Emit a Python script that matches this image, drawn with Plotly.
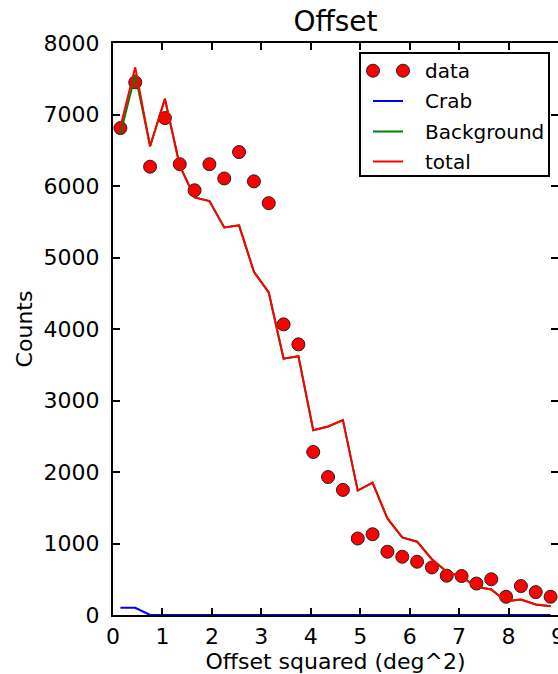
import plotly.graph_objects as go

# ---- data ----
offset_sq = [0.15, 0.45, 0.75, 1.05, 1.35, 1.65, 1.95, 2.25, 2.55, 2.85,
             3.15, 3.45, 3.75, 4.05, 4.35, 4.65, 4.95, 5.25, 5.55, 5.85,
             6.15, 6.45, 6.75, 7.05, 7.35, 7.65, 7.95, 8.25, 8.55, 8.85]
data_counts = [6810, 7450, 6270, 6950, 6305, 5940, 6305, 6105, 6475, 6065,
               5760, 4065, 3785, 2280, 1930, 1750, 1070, 1130, 885, 815,
               745, 665, 550, 545, 440, 500, 255, 405, 320, 255]
crab = [100, 100, 0, 0, 0, 0, 0, 0, 0, 0,
        0, 0, 0, 0, 0, 0, 0, 0, 0, 0,
        0, 0, 0, 0, 0, 0, 0, 0, 0, 0]
background = [6730, 7560, 6555, 7220, 6285, 5840, 5790, 5420, 5450, 4800,
              4510, 3585, 3620, 2585, 2637, 2725, 1740, 1850, 1350, 1085,
              1025, 780, 605, 533, 395, 356, 192, 216, 146, 122]
total = [b + c for b, c in zip(background, crab)]

x_ticks = [0, 1, 2, 3, 4, 5, 6, 7, 8, 9]
y_ticks = [0, 1000, 2000, 3000, 4000, 5000, 6000, 7000, 8000]
legend_names = ["data", "Crab", "Background", "total"]

FONT = "DejaVu Sans"
W, H = 558, 674
ML, MR, MT, MB = 113, 0, 43, 59
PW, PH = W - ML - MR, H - MT - MB

fig = go.Figure()
fig.add_trace(go.Scatter(x=offset_sq, y=data_counts, mode="markers", name="data",
                         marker=dict(size=13, color="#ff0000",
                                     line=dict(color="#222222", width=1))))
fig.add_trace(go.Scatter(x=offset_sq, y=crab, mode="lines", name="Crab",
                         line=dict(color="#0000ff", width=2)))
fig.add_trace(go.Scatter(x=offset_sq, y=background, mode="lines", name="Background",
                         line=dict(color="#008000", width=2)))
fig.add_trace(go.Scatter(x=offset_sq, y=total, mode="lines", name="total",
                         line=dict(color="#ff0000", width=2)))

axis_common = dict(showline=True, linecolor="black", linewidth=2, mirror="ticks",
                   ticks="inside", ticklen=7, tickwidth=1.5, tickcolor="black",
                   showgrid=False, zeroline=False, ticklabeloverflow="allow",
                   automargin=False,
                   tickfont=dict(family=FONT, size=22, color="black"))
fig.update_xaxes(range=[0, 9], tickvals=x_ticks, ticktext=[str(t) for t in x_ticks],
                 title=dict(text="Offset squared (deg^2)", font=dict(family=FONT, size=22, color="black"),
                            standoff=2),
                 ticklabelstandoff=1, **axis_common)
fig.update_yaxes(range=[0, 8000], tickvals=y_ticks, ticktext=[str(t) for t in y_ticks],
                 title=dict(text="Counts", font=dict(family=FONT, size=22, color="black"),
                            standoff=5),
                 ticklabelstandoff=7, **axis_common)

# ---- custom legend (matplotlib-style, two markers for data) ----
def px_x(p):
    return (p - ML) / PW

def px_y(p):
    return (H - MB - p) / PH

shapes = [dict(type="rect", xref="paper", yref="paper",
               x0=px_x(360), x1=px_x(549), y0=px_y(176), y1=px_y(53),
               line=dict(color="black", width=2), fillcolor="white", layer="above")]
row_y = [70.7, 101, 131.5, 161.5]
line_colors = {"Crab": "#0000ff", "Background": "#008000", "total": "#ff0000"}
annotations = []
for name, ry in zip(legend_names, row_y):
    if name == "data":
        for cx in (373, 403):
            shapes.append(dict(type="circle", xref="paper", yref="paper",
                               xsizemode="pixel", ysizemode="pixel",
                               xanchor=px_x(cx), yanchor=px_y(ry),
                               x0=-6.5, x1=6.5, y0=-6.5, y1=6.5,
                               fillcolor="#ff0000", line=dict(color="#222222", width=1),
                               layer="above"))
    else:
        shapes.append(dict(type="line", xref="paper", yref="paper",
                           x0=px_x(373), x1=px_x(403), y0=px_y(ry), y1=px_y(ry),
                           line=dict(color=line_colors[name], width=2), layer="above"))
    annotations.append(dict(text=name, xref="paper", yref="paper",
                            x=px_x(423), y=px_y(ry), xanchor="left", yanchor="middle",
                            showarrow=False, font=dict(family=FONT, size=20, color="black")))

fig.update_layout(
    width=W, height=H, autosize=False,
    margin=dict(l=ML, r=MR, t=MT, b=MB, pad=0, autoexpand=False),
    paper_bgcolor="white", plot_bgcolor="white",
    showlegend=False,
    title=dict(text="Offset", x=0.5, xref="paper", xanchor="center",
               y=1 - 21 / H, yref="container", yanchor="middle", automargin=False,
               font=dict(family=FONT, size=28, color="black")),
    shapes=shapes, annotations=annotations,
)

fig.write_html("out.html")
